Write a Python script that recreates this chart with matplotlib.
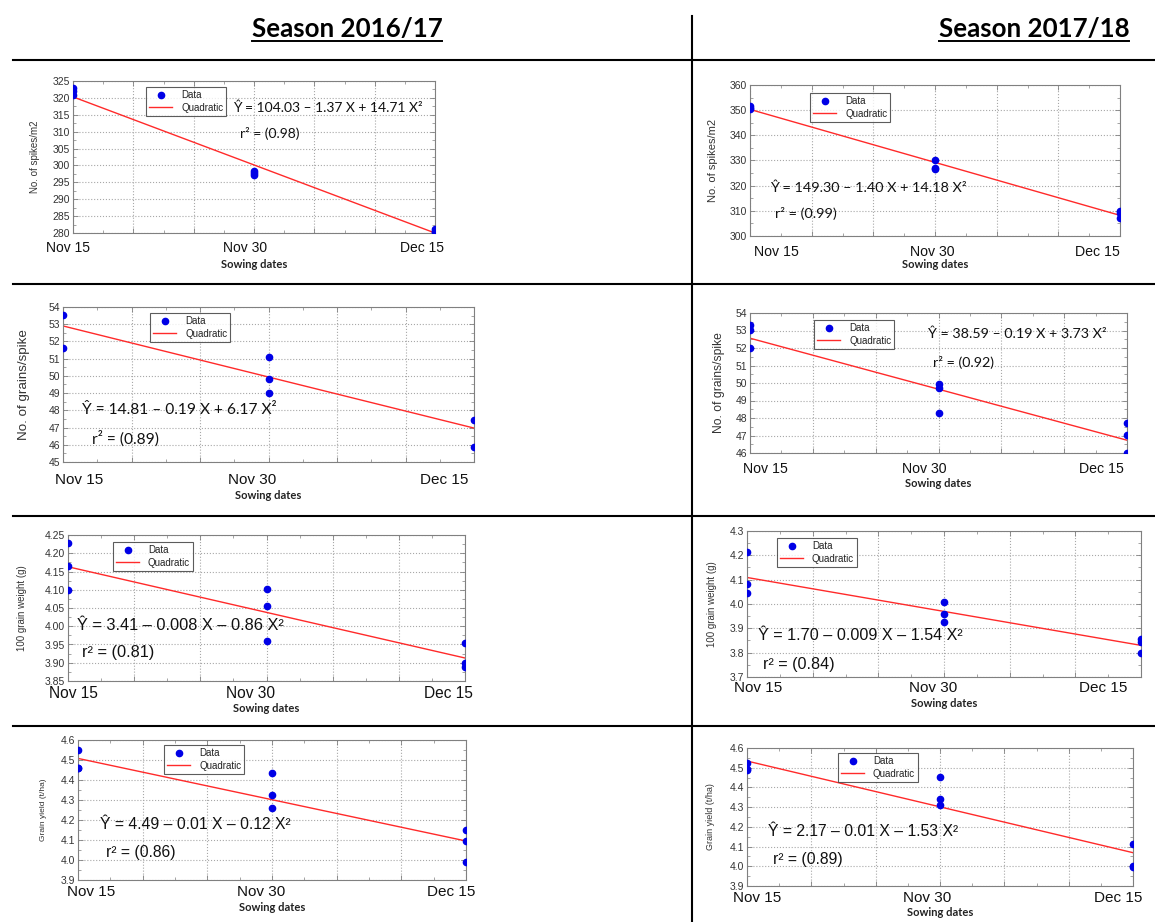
import numpy as np
import matplotlib
matplotlib.use('Agg')
import matplotlib.pyplot as plt
from matplotlib.lines import Line2D
from matplotlib.ticker import MultipleLocator, AutoMinorLocator, FixedLocator, FixedFormatter, NullFormatter

W, H = 1155, 922

# ---- data ----
seasons = ['Season 2016/17', 'Season 2017/18']
y_labels = ['No. of spikes/m2', 'No. of grains/spike', '100 grain weight (g)', 'Grain yield (t/ha)']
date_days = [0, 15, 30]
date_labels = ['Nov 15', 'Nov 30', 'Dec 15']

# observations per sowing date (Nov 15, Nov 30, Dec 15)
spikes_1617 = [[323.0, 322.0, 321.0], [298.3, 297.7, 297.2], [281.2, 280.6, 280.2]]
spikes_1718 = [[351.6, 351.0, 350.5], [330.0, 327.0, 326.8], [310.0, 309.0, 307.0]]
grains_1617 = [[53.52, 51.63], [51.11, 49.82, 48.99], [47.45, 45.87]]
grains_1718 = [[53.29, 53.04, 52.02], [49.92, 49.69, 48.31], [47.72, 47.05, 46.0]]
weight_1617 = [[4.227, 4.164, 4.098], [4.103, 4.056, 3.96], [3.953, 3.899, 3.887]]
weight_1718 = [[4.214, 4.081, 4.047], [4.007, 3.959, 3.928], [3.857, 3.843, 3.80]]
yield_1617 = [[4.55, 4.462, 4.458], [4.433, 4.325, 4.258], [4.15, 4.097, 3.992]]
yield_1718 = [[4.526, 4.495, 4.49], [4.453, 4.343, 4.31], [4.115, 4.0, 3.996]]

# fitted line value at Nov 15 and Dec 15
fit_1617 = [(320.3, 280.0), (52.9, 46.97), (4.163, 3.913), (4.508, 4.095)]
fit_1718 = [(350.3, 308.2), (52.56, 46.73), (4.109, 3.83), (4.534, 4.069)]

eq_1617 = ['Ŷ = 104.03 – 1.37 X + 14.71 X²', 'Ŷ = 14.81 – 0.19 X + 6.17 X²',
           'Ŷ = 3.41 – 0.008 X – 0.86 X²', 'Ŷ = 4.49 – 0.01 X – 0.12 X²']
eq_1718 = ['Ŷ = 149.30 – 1.40 X + 14.18 X²', 'Ŷ = 38.59 – 0.19 X + 3.73 X²',
           'Ŷ = 1.70 – 0.009 X – 1.54 X²', 'Ŷ = 2.17 – 0.01 X – 1.53 X²']
r2_1617 = ['0.98', '0.89', '0.81', '0.86']
r2_1718 = ['0.99', '0.92', '0.84', '0.89']

ylims_1617 = [(280, 325, 5), (45, 54, 1), (3.85, 4.25, 0.05), (3.9, 4.6, 0.1)]
ylims_1718 = [(300, 360, 10), (46, 54, 1), (3.7, 4.3, 0.1), (3.9, 4.6, 0.1)]
ydec_1617 = [0, 0, 2, 1]
ydec_1718 = [0, 0, 1, 1]

# ---- layout (pixels) ----
panels = [
    dict(box=(73, 81, 435, 233), leg=(146, 87), eq=(233, 108), r2=(240, 134), ylx=40, yls=7,
         font='Lato', eqs=10, dx=(68, 245, 422), dy=248, ds=10, xly=265),
    dict(box=(63, 307, 474, 462), leg=(150, 313), eq=(82, 410), r2=(92, 439), ylx=30, yls=9.6,
         font='Lato', eqs=11.2, dx=(79, 252, 444), dy=480, ds=11, xly=495),
    dict(box=(68, 535, 465, 681), leg=(113, 542), eq=(77, 625), r2=(82, 653), ylx=27, yls=7,
         font='Liberation Sans', eqs=11.8, dx=(73, 251, 448), dy=693, ds=11.2, xly=708),
    dict(box=(78, 740, 466, 880), leg=(164, 745), eq=(100, 824), r2=(106, 852), ylx=47, yls=6,
         font='Liberation Sans', eqs=11.3, dx=(91, 261, 451), dy=892, ds=11, xly=907),
    dict(box=(750, 85, 1120, 236), leg=(810, 93), eq=(770, 188), r2=(775, 213), ylx=718, yls=8,
         font='Lato', eqs=10.4, dx=(776, 932, 1097), dy=252, ds=10.2, xly=264),
    dict(box=(750, 313, 1127, 453), leg=(814, 320), eq=(928, 334), r2=(933, 362), ylx=725, yls=8.7,
         font='Lato', eqs=10.3, dx=(765, 924, 1101), dy=469, ds=10.2, xly=483),
    dict(box=(747, 531, 1141, 677), leg=(777, 538), eq=(758, 635), r2=(763, 665), ylx=717, yls=7,
         font='Liberation Sans', eqs=11.6, dx=(758, 933, 1103), dy=688, ds=11, xly=703),
    dict(box=(747, 748, 1133, 886), leg=(838, 753), eq=(768, 832), r2=(773, 859), ylx=715, yls=6.5,
         font='Liberation Sans', eqs=11.3, dx=(757, 927, 1118), dy=898, ds=11, xly=912),
]

series = [spikes_1617, grains_1617, weight_1617, yield_1617,
          spikes_1718, grains_1718, weight_1718, yield_1718]
fits = fit_1617 + fit_1718
eqs = eq_1617 + eq_1718
r2s = r2_1617 + r2_1718
ylims = ylims_1617 + ylims_1718
ydecs = ydec_1617 + ydec_1718
ylabs = y_labels + y_labels

fig = plt.figure(figsize=(W / 100, H / 100), dpi=100)


def fx(x):
    return x / W


def fy(y):
    return 1 - y / H


grey = '#808080'
for i, p in enumerate(panels):
    x0, y0, x1, y1 = p['box']
    ax = fig.add_axes([fx(x0), fy(y1), (x1 - x0) / W, (y1 - y0) / H])
    obs = series[i]
    xs = np.concatenate([[d] * len(v) for d, v in zip(date_days, obs)])
    ys = np.concatenate(obs)
    ax.plot(xs, ys, 'o', color='#0000e6', ms=4.5, mec='#0000e6', label='Data', zorder=3)
    ax.plot([date_days[0], date_days[-1]], fits[i], '-', color='#ff2a2a', lw=1.0,
            label='Quadratic', zorder=2)

    lo, hi, st = ylims[i]
    ax.set_xlim(0, 30)
    ax.set_ylim(lo, hi)
    yt = np.arange(lo, hi + st / 2, st)
    ax.yaxis.set_major_locator(FixedLocator(yt))
    ax.yaxis.set_major_formatter(FixedFormatter(['%.*f' % (ydecs[i], v) for v in yt]))
    ax.yaxis.set_minor_locator(AutoMinorLocator(2))
    ax.xaxis.set_major_locator(MultipleLocator(5))
    ax.xaxis.set_major_formatter(NullFormatter())
    ax.xaxis.set_minor_locator(MultipleLocator(2.5))
    ax.grid(True, which='major', ls=':', color='#a8a8a8', lw=0.8)
    ax.set_axisbelow(True)
    ax.tick_params(which='both', direction='in', top=True, right=True, color=grey)
    ax.tick_params(which='major', length=3.5, width=0.6)
    ax.tick_params(which='minor', length=2, width=0.5)
    ax.tick_params(axis='y', labelsize=7.5, labelcolor='#333333', pad=2)
    for lbl in ax.get_yticklabels():
        lbl.set_family('Liberation Sans')
    for s in ax.spines.values():
        s.set_color(grey)
        s.set_linewidth(0.8)

    ax.set_ylabel(ylabs[i], fontsize=p['yls'], family='Liberation Sans', color='#333333')
    ax.yaxis.set_label_coords((p['ylx'] - x0) / (x1 - x0), 0.5)

    # sowing date labels and axis title
    for dxp, dl in zip(p['dx'], date_labels):
        fig.text(fx(dxp), fy(p['dy']), dl, fontsize=p['ds'], family='Liberation Sans',
                 ha='center', va='center', color='#111111')
    fig.text(fx((x0 + x1) / 2), fy(p['xly']), 'Sowing dates', fontsize=8, fontweight='bold',
             family=['Lato', 'DejaVu Sans'], ha='center', va='center', color='#222222')

    lx, ly = p['leg']
    leg = ax.legend(loc='upper left', bbox_to_anchor=(fx(lx), fy(ly)), bbox_transform=fig.transFigure,
                    frameon=True, fancybox=False, borderpad=0.3, labelspacing=0.3,
                    handlelength=2.4, handletextpad=0.9, borderaxespad=0,
                    prop={'family': 'Liberation Sans', 'size': 7})
    leg.get_frame().set_edgecolor('#333333')
    leg.get_frame().set_linewidth(0.8)
    for t in leg.get_texts():
        t.set_color('#222222')

    fam = [p['font'], 'DejaVu Sans']
    fig.text(fx(p['eq'][0]), fy(p['eq'][1]), eqs[i], fontsize=p['eqs'], family=fam,
             ha='left', va='center', color='#111111')
    fig.text(fx(p['r2'][0]), fy(p['r2'][1]), 'r² = (' + r2s[i] + ')', fontsize=p['eqs'], family=fam,
             ha='left', va='center', color='#111111')

# table lines
lw_tab = 1.5
for yy in [60, 284, 516, 726]:
    fig.add_artist(Line2D([fx(13), 1], [fy(yy), fy(yy)], color='black', lw=lw_tab))
fig.add_artist(Line2D([fx(692), fx(692)], [fy(16), 0], color='black', lw=lw_tab))

# season headers, underlined
fig.canvas.draw()
rend = fig.canvas.get_renderer()
for cx, name in zip([347, 1034], seasons):
    t = fig.text(fx(cx), fy(29), name, fontsize=18.6, fontweight='bold', family=['Lato', 'DejaVu Sans'],
                 ha='center', va='center', color='black')
    bb = t.get_window_extent(renderer=rend)
    fig.add_artist(Line2D([bb.x0 / W, bb.x1 / W], [fy(41), fy(41)], color='black', lw=1.4))

fig.savefig('out.png', dpi=100)
